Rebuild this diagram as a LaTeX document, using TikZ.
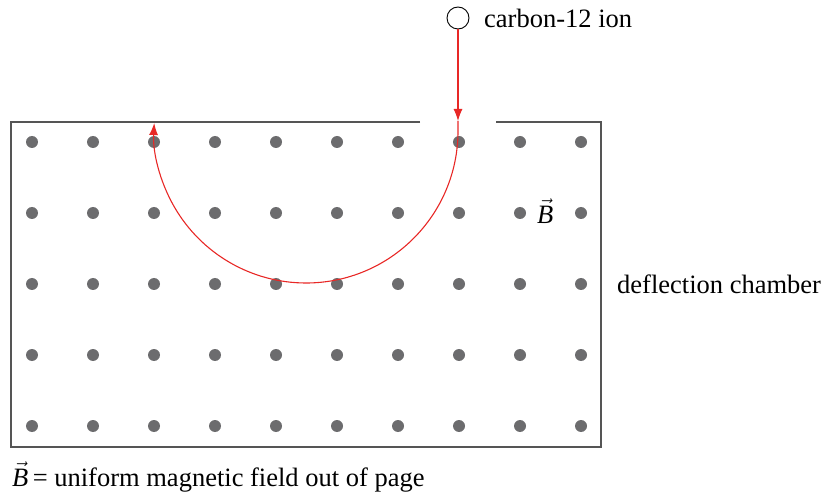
\documentclass[tikz,border=0pt]{standalone}
\usepackage{fontspec}
\setmainfont{Liberation Serif}
\usetikzlibrary{arrows.meta}
\definecolor{ionred}{RGB}{232,40,38}
\definecolor{boxgray}{RGB}{85,85,85}
\definecolor{dotgray}{RGB}{108,108,110}
\tikzset{
  redline/.style={draw=ionred, line width=1.1pt},
  redtip/.style={-{Latex[length=12pt,width=9pt]}},
  boxline/.style={draw=boxgray, line width=1.3pt},
  fielddot/.style={circle, fill=dotgray, minimum size=12pt, inner sep=0pt},
  ionball/.style={circle, draw=black, line width=0.9pt, minimum size=22pt, inner sep=0pt},
  lbl/.style={font=\fontsize{26.5}{30}\selectfont, inner sep=0pt, text=black},
}
\begin{document}
\begin{tikzpicture}[x=1pt, y=-1pt]
\useasboundingbox (0,0) rectangle (828,497);
% chamber
\draw[boxline] (420,122) -- (11,122) -- (11,447) -- (601,447) -- (601,122) -- (496,122);
% field dots
\foreach \c [count=\i] in {32,93,154,215,276,337,398,459,520,581}{
  \foreach \r [count=\j] in {142,213,284,355,426}{
    \node[fielddot] (d-\i-\j) at (\c,\r) {};
  }
}
% ion
\node[ionball] (ion) at (458,18) {};
\node[lbl, anchor=west] (ionlbl) at (484,18) {carbon-12 ion};
% path
\coordinate (entry) at (458,121);
\coordinate (arcstart) at (458,131);
\draw[redline, redtip] (ion.south) -- (entry);
\draw[redline, redtip] (entry) -- (arcstart) arc[start angle=0, end angle=183, radius=152];
% labels
\node[lbl, anchor=west] (blbl) at (537,211) {$\vec{\textit{B}}$};
\node[lbl, anchor=west] (chamber) at (617,284) {deflection chamber};
\node[lbl, anchor=west] (legend) at (12,477) {$\vec{\textit{B}}$\,= uniform magnetic field out of page};
\end{tikzpicture}
\end{document}
